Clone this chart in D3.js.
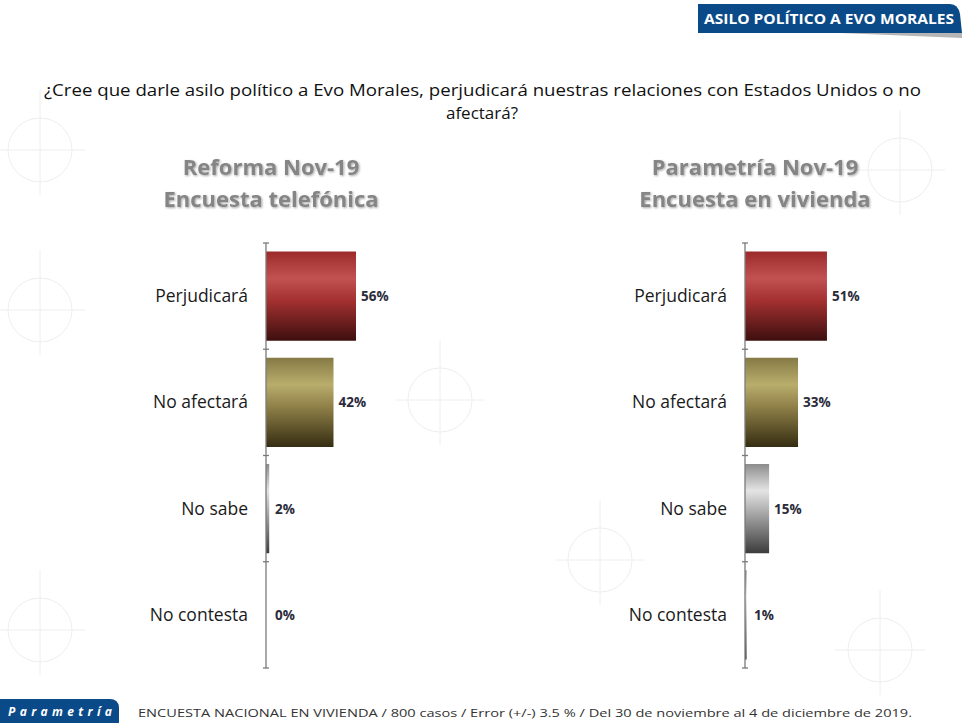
<!DOCTYPE html>
<html lang="es">
<head>
<meta charset="UTF-8">
<title>Asilo político a Evo Morales</title>
<script src="https://d3js.org/d3.v7.min.js"></script>
<style>
  body { margin: 0; background: #fff; }
  svg { display: block; font-family: "Open Sans", "Noto Sans", sans-serif; }
  .cat { font-size: 17.5px; fill: #1a1a1a; }
  .val { font-size: 13.5px; font-weight: 700; fill: #2b2b3a; }
  .sub { font-size: 22px; font-weight: 700; fill: #858585; }
  .axis { stroke: #7a7a7a; stroke-width: 1.3; }
</style>
</head>
<body>
<svg width="964" height="723"></svg>
<script>
// === Data ===
const categories = ["Perjudicará", "No afectará", "No sabe", "No contesta"];
const reformaValues = [56, 42, 2, 0];
const parametriaValues = [51, 33, 15, 1];
const panelTitles = [
  ["Reforma Nov-19", "Encuesta telefónica"],
  ["Parametría Nov-19", "Encuesta en vivienda"]
];
const question = [
  "¿Cree que darle asilo político a Evo Morales, perjudicará nuestras relaciones con Estados Unidos o no",
  "afectará?"
];

const svg = d3.select("svg");
const defs = svg.append("defs");

// === Gradients for bars ===
const fills = [
  ["#9c2a2a", "#c25252", "#a43030", "#3d0f0f"],
  ["#857a45", "#b9ad6c", "#8f8048", "#352d12"],
  ["#8c8c8c", "#e4e4e4", "#a8a8a8", "#3c3c3c"]
];
fills.forEach((c, i) => {
  const g = defs.append("linearGradient").attr("id", "grad" + i)
    .attr("x1", 0).attr("y1", 0).attr("x2", 0).attr("y2", 1);
  [0, 0.3, 0.55, 1].forEach((o, k) => g.append("stop").attr("offset", o).attr("stop-color", c[k]));
});
const shadow = defs.append("filter").attr("id", "shadow");
shadow.append("feDropShadow").attr("dx", 1).attr("dy", 1).attr("stdDeviation", 0.8)
  .attr("flood-color", "#000").attr("flood-opacity", 0.35);

// === Faint watermark background ===
const wm = svg.append("g").attr("stroke", "#eceef1").attr("fill", "none").attr("stroke-width", 1);
[[40, 150], [40, 310], [40, 630], [900, 170], [880, 650], [440, 400], [600, 560]].forEach(([cx, cy]) => {
  wm.append("circle").attr("cx", cx).attr("cy", cy).attr("r", 32);
  wm.append("line").attr("x1", cx - 45).attr("x2", cx + 45).attr("y1", cy).attr("y2", cy);
  wm.append("line").attr("x1", cx).attr("x2", cx).attr("y1", cy - 60).attr("y2", cy + 45);
});

// === Header banner ===
svg.append("path")
  .attr("d", "M698,4 L950,4 Q958,4 960,14 L962,33 L698,33 Z")
  .attr("fill", "#0b4a88");
svg.append("path").attr("d", "M840,33 L962,33 L962,38 Z").attr("fill", "#b5b5b5");
svg.append("text").attr("x", 704).attr("y", 24)
  .attr("fill", "#fff").attr("font-size", 14).attr("font-weight", 700)
  .attr("textLength", 250).attr("lengthAdjust", "spacingAndGlyphs")
  .text("ASILO  POLÍTICO  A EVO MORALES");

// === Question ===
svg.append("g").selectAll("text").data(question).join("text")
  .attr("x", (d, i) => i === 0 ? 44 : 482).attr("y", (d, i) => 96 + i * 23)
  .attr("text-anchor", (d, i) => i === 0 ? "start" : "middle")
  .attr("font-size", 17).attr("fill", "#111")
  .each(function(d, i) {
    if (i === 0) d3.select(this).attr("textLength", 877).attr("lengthAdjust", "spacingAndGlyphs");
  })
  .text(d => d);

// === Panels ===
const y = d3.scaleBand().domain(categories).range([243, 668])
  .paddingInner(0.16).paddingOuter(0.08);
const x = d3.scaleLinear().domain([0, 100]).range([0, 160.7]);
const colorIdx = [0, 1, 2, 2];

const panels = [
  { x0: 266, cx: 271, values: reformaValues, title: panelTitles[0] },
  { x0: 745, cx: 755, values: parametriaValues, title: panelTitles[1] }
];

panels.forEach(p => {
  const g = svg.append("g");

  g.selectAll(".sub").data(p.title).join("text").attr("class", "sub")
    .attr("x", p.cx).attr("y", (d, i) => 175 + i * 32)
    .attr("text-anchor", "middle").attr("filter", "url(#shadow)")
    .text(d => d);

  g.selectAll("rect").data(categories).join("rect")
    .attr("x", p.x0)
    .attr("y", d => y(d))
    .attr("width", (d, i) => x(p.values[i]))
    .attr("height", y.bandwidth())
    .attr("fill", (d, i) => `url(#grad${colorIdx[i]})`);

  // axis line with ticks at category boundaries
  const r = y.range();
  g.append("line").attr("class", "axis")
    .attr("x1", p.x0).attr("x2", p.x0).attr("y1", r[0]).attr("y2", r[1]);
  const bounds = d3.range(categories.length + 1).map(i => r[0] + i * y.step());
  g.selectAll(".tk").data(bounds).join("line").attr("class", "axis")
    .attr("x1", p.x0 - 3).attr("x2", p.x0 + 3).attr("y1", d => d).attr("y2", d => d);

  g.selectAll(".cat").data(categories).join("text").attr("class", "cat")
    .attr("x", p.x0 - 18).attr("y", d => y(d) + y.bandwidth() / 2 + 6)
    .attr("text-anchor", "end").text(d => d);

  g.selectAll(".val").data(categories).join("text").attr("class", "val")
    .attr("x", (d, i) => p.x0 + Math.max(x(p.values[i]) + 5, 9))
    .attr("y", d => y(d) + y.bandwidth() / 2 + 5)
    .text((d, i) => p.values[i] + "%");
});

// === Footer ===
svg.append("path")
  .attr("d", "M0,699 L110,699 Q118,699 119,707 L119,723 L0,723 Z")
  .attr("fill", "#0b4a88");
svg.append("text").attr("x", 8).attr("y", 716)
  .attr("fill", "#fff").attr("font-size", 12).attr("font-weight", 700)
  .attr("font-style", "italic").attr("textLength", 104).attr("lengthAdjust", "spacing")
  .text("Parametría");
svg.append("text").attr("x", 138).attr("y", 717)
  .attr("fill", "#333").attr("font-size", 11)
  .attr("textLength", 774).attr("lengthAdjust", "spacingAndGlyphs")
  .text("ENCUESTA  NACIONAL EN VIVIENDA  / 800 casos / Error (+/-)  3.5 % / Del 30 de noviembre al 4 de diciembre de 2019.");
</script>
</body>
</html>
